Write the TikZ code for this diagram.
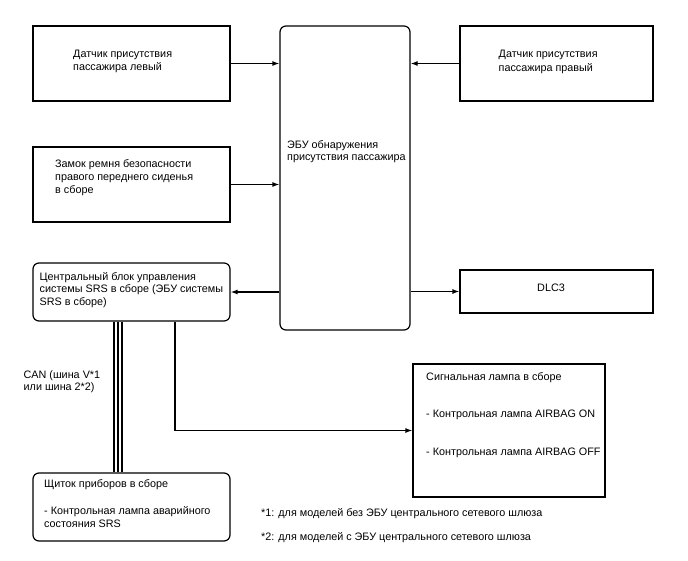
\documentclass[tikz,border=0pt]{standalone}
\usepackage{fontspec}
\setmainfont{Liberation Sans}
\usetikzlibrary{arrows.meta}
\begin{document}
\begin{tikzpicture}[x=1pt,y=-1pt,
  box/.style={draw,line width=1.2pt,rectangle,inner sep=0pt},
  rbox/.style={box,rounded corners=6pt},
  txt/.style={anchor=base west,inner sep=0pt,font=\fontsize{10.8}{13}\selectfont},
  conn/.style={line width=1.2pt,-{Latex[length=7pt,width=5pt]}},
  wire/.style={line width=1.1pt}]
\useasboundingbox (0,0) rectangle (688,560);
% boxes
\node[box,minimum width=197pt,minimum height=75pt] (l1) at (131.5,63.5) {};
\node[rbox,minimum width=130pt,minimum height=304pt] (ecu) at (345,178) {};
\node[box,minimum width=193pt,minimum height=75pt] (r1) at (556.5,63.5) {};
\node[box,minimum width=197pt,minimum height=75pt] (belt) at (131.5,184.5) {};
\node[rbox,minimum width=197pt,minimum height=58pt] (srs) at (131.5,292) {};
\node[box,minimum width=193pt,minimum height=43pt] (dlc) at (556.5,291.5) {};
\node[box,minimum width=192pt,minimum height=133pt] (sig) at (509,430.5) {};
\node[rbox,minimum width=197pt,minimum height=68pt] (shch) at (131.5,507) {};
% texts
\node[txt] (t1a) at (73,57) {Датчик присутствия};
\node[txt] (t1b) at (73,70.5) {пассажира левый};
\node[txt] (t2a) at (498.5,57) {Датчик присутствия};
\node[txt] (t2b) at (498.5,71) {пассажира правый};
\node[txt] (t3a) at (287,148.3) {ЭБУ обнаружения};
\node[txt] (t3b) at (287,160.8) {присутствия пассажира};
\node[txt] (t4a) at (55,167.3) {Замок ремня безопасности};
\node[txt] (t4b) at (55,180.3) {правого переднего сиденья};
\node[txt] (t4c) at (55,193.3) {в сборе};
\node[txt] (t5a) at (39.5,280) {Центральный блок управления};
\node[txt] (t5b) at (39.5,292.7) {системы SRS в сборе (ЭБУ системы};
\node[txt] (t5c) at (39.5,305.7) {SRS в сборе)};
\node[txt] (t6) at (537,291.5) {DLC3};
\node[txt] (t7a) at (23.5,378) {CAN (шина V*1};
\node[txt] (t7b) at (23.5,390.7) {или шина 2*2)};
\node[txt] (t8a) at (426,380.5) {Сигнальная лампа в сборе};
\node[txt] (t8b) at (426,417.5) {- Контрольная лампа AIRBAG ON};
\node[txt] (t8c) at (426,455) {- Контрольная лампа AIRBAG OFF};
\node[txt] (t9a) at (44,487.7) {Щиток приборов в сборе};
\node[txt] (t9b) at (44,514.3) {- Контрольная лампа аварийного};
\node[txt] (t9c) at (44,527.7) {состояния SRS};
\node[txt] (f1) at (261,516.7) {*1: для моделей без ЭБУ центрального сетевого шлюза};
\node[txt] (f2) at (261,540) {*2: для моделей с ЭБУ центрального сетевого шлюза};
% connectors
\draw[conn] (l1.east) -- (l1.east -| ecu.west);
\draw[conn] (r1.west) -- (r1.west -| ecu.east);
\draw[conn] (belt.east) -- (belt.east -| ecu.west);
\draw[conn] (srs.east -| ecu.west) -- (srs.east);
\draw[conn] (dlc.west -| ecu.east) -- (dlc.west);
\coordinate (sx) at (175,0);
\draw[conn] (srs.south -| sx) |- (sig.west);
\foreach \xx in {114,118,122}{
  \draw[wire] (srs.south -| \xx,0) -- (shch.north -| \xx,0);
}
\end{tikzpicture}
\end{document}
